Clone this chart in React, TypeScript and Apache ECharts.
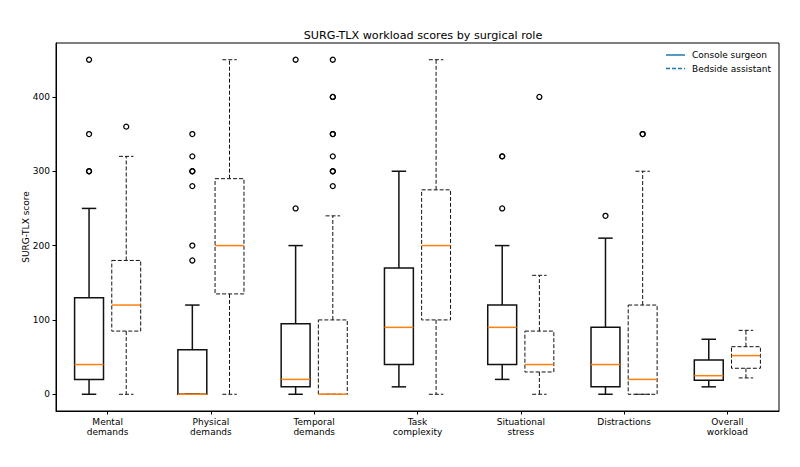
import React, { useEffect, useRef } from "react";
import * as echarts from "echarts";

const categories = [
  "Mental\ndemands",
  "Physical\ndemands",
  "Temporal\ndemands",
  "Task\ncomplexity",
  "Situational\nstress",
  "Distractions",
  "Overall\nworkload",
];

// [low whisker, Q1, median, Q3, high whisker]
const consoleStats = [
  [0, 20, 40, 130, 250],
  [0, 0, 0, 60, 120],
  [0, 10, 20, 95, 200],
  [10, 40, 90, 170, 300],
  [20, 40, 90, 120, 200],
  [0, 10, 40, 90, 210],
  [10, 19, 25, 46, 74],
];

const bedsideStats = [
  [0, 85, 120, 180, 320],
  [0, 135, 200, 290, 450],
  [0, 0, 0, 100, 240],
  [0, 100, 200, 275, 450],
  [0, 30, 40, 85, 160],
  [0, 0, 20, 120, 300],
  [22, 35, 52, 64, 86],
];

const consoleOutliers = [
  [300, 300, 350, 450],
  [180, 200, 280, 300, 300, 320, 350],
  [250, 450],
  [],
  [250, 320, 320],
  [240],
  [],
];

const bedsideOutliers = [
  [360],
  [],
  [280, 300, 300, 320, 350, 350, 400, 400, 450],
  [],
  [400],
  [350, 350],
  [],
];

const yTicks = [0, 100, 200, 300, 400];
const seriesNames = ["Console surgeon", "Bedside assistant"];

const FONT = "DejaVu Sans";
const TICK_FS = 9;
const OFFSET = 0.18;
const BOX_HALF = 0.14;

function boxRenderer(offsetFrac: number, dashed: boolean, lw: number) {
  return (params: any, api: any) => {
    const idx = api.value(0);
    const low = api.value(1);
    const q1 = api.value(2);
    const med = api.value(3);
    const q3 = api.value(4);
    const high = api.value(5);
    const band = api.size([1, 0])[0];
    const cx = api.coord([idx, 0])[0] + offsetFrac * band;
    const half = BOX_HALF * band;
    const capHalf = half / 2;
    const y = (v: number) => api.coord([idx, v])[1];
    const ls: any = {
      stroke: "#111",
      lineWidth: lw,
      fill: null,
      lineDash: dashed ? [4, 2] : null,
    };
    return {
      type: "group",
      children: [
        { type: "line", shape: { x1: cx, y1: y(q3), x2: cx, y2: y(high) }, style: ls },
        { type: "line", shape: { x1: cx, y1: y(q1), x2: cx, y2: y(low) }, style: ls },
        { type: "line", shape: { x1: cx - capHalf, y1: y(high), x2: cx + capHalf, y2: y(high) }, style: ls },
        { type: "line", shape: { x1: cx - capHalf, y1: y(low), x2: cx + capHalf, y2: y(low) }, style: ls },
        {
          type: "rect",
          shape: { x: cx - half, y: y(q3), width: 2 * half, height: y(q1) - y(q3) },
          style: { ...ls, fill: "none" },
        },
        {
          type: "line",
          shape: { x1: cx - half, y1: y(med), x2: cx + half, y2: y(med) },
          style: { stroke: "#ff7f0e", lineWidth: 1.5 },
        },
      ],
    };
  };
}

function outlierRenderer(offsetFrac: number) {
  return (params: any, api: any) => {
    const idx = api.value(0);
    const v = api.value(1);
    const band = api.size([1, 0])[0];
    const p = api.coord([idx, v]);
    return {
      type: "circle",
      shape: { cx: p[0] + offsetFrac * band, cy: p[1], r: 2.5 },
      style: { fill: "none", stroke: "#000", lineWidth: 1.3 },
    };
  };
}

export default function App() {
  const ref = useRef<HTMLDivElement>(null);
  useEffect(() => {
    if (!ref.current) return;
    const chart = echarts.init(ref.current, null, { renderer: "svg" });
    const consoleData = consoleStats.map((s, i) => [i, ...s]);
    const bedsideData = bedsideStats.map((s, i) => [i, ...s]);
    const consoleOut = consoleOutliers.flatMap((arr, i) => arr.map((v) => [i, v]));
    const bedsideOut = bedsideOutliers.flatMap((arr, i) => arr.map((v) => [i, v]));

    chart.setOption({
      animation: false,
      backgroundColor: "#fff",
      textStyle: { fontFamily: FONT },
      grid: {
        left: 56,
        top: 43,
        right: 21,
        bottom: 56,
        show: true,
        borderColor: "#000",
        borderWidth: 1,
        backgroundColor: "transparent",
      },
      xAxis: {
        type: "category",
        data: categories,
        boundaryGap: true,
        axisLine: { show: true, onZero: false, lineStyle: { color: "#000", width: 1 } },
        axisTick: { show: true, alignWithLabel: true, length: 3.5, lineStyle: { color: "#000" } },
        axisLabel: {
          color: "#000",
          fontSize: TICK_FS,
          fontFamily: FONT,
          lineHeight: 10,
          margin: 6,
          interval: 0,
        },
        splitLine: { show: false },
      },
      yAxis: {
        type: "value",
        min: -22.5,
        max: 472.5,
        name: "SURG-TLX score",
        nameLocation: "middle",
        nameRotate: 90,
        nameGap: 26,
        nameMoveOverlap: false,
        nameTextStyle: { color: "#000", fontSize: TICK_FS, fontFamily: FONT },
        axisLine: { show: true, lineStyle: { color: "#000", width: 1 } },
        axisTick: { show: true, length: 3.5, lineStyle: { color: "#000" }, customValues: yTicks },
        axisLabel: {
          color: "#000",
          fontSize: TICK_FS,
          fontFamily: FONT,
          margin: 6,
          customValues: yTicks,
        },
        splitLine: { show: false },
      },
      graphic: [
        {
          type: "text",
          x: 423,
          y: 35,
          style: {
            text: "SURG-TLX workload scores by surgical role",
            fontSize: 11.2,
            fontFamily: FONT,
            fill: "#000",
            align: "center",
            verticalAlign: "middle",
          },
        },
        {
          type: "line",
          shape: { x1: 666, y1: 55, x2: 685, y2: 55 },
          style: { stroke: "#1f77b4", lineWidth: 1.5 },
        },
        {
          type: "line",
          shape: { x1: 666, y1: 68.5, x2: 685, y2: 68.5 },
          style: { stroke: "#1f77b4", lineWidth: 1.5, lineDash: [4, 2] },
        },
        {
          type: "text",
          x: 692,
          y: 55,
          style: {
            text: seriesNames[0],
            fontSize: TICK_FS,
            fontFamily: FONT,
            fill: "#000",
            verticalAlign: "middle",
          },
        },
        {
          type: "text",
          x: 692,
          y: 68.5,
          style: {
            text: seriesNames[1],
            fontSize: TICK_FS,
            fontFamily: FONT,
            fill: "#000",
            verticalAlign: "middle",
          },
        },
      ],
      series: [
        {
          type: "custom",
          name: seriesNames[0],
          data: consoleData,
          encode: { x: 0, y: [1, 2, 3, 4, 5] },
          renderItem: boxRenderer(-OFFSET, false, 1.5),
          z: 2,
        },
        {
          type: "custom",
          name: seriesNames[1],
          data: bedsideData,
          encode: { x: 0, y: [1, 2, 3, 4, 5] },
          renderItem: boxRenderer(OFFSET, true, 1),
          z: 2,
        },
        {
          type: "custom",
          name: seriesNames[0] + " outliers",
          data: consoleOut,
          encode: { x: 0, y: 1 },
          renderItem: outlierRenderer(-OFFSET),
          z: 3,
        },
        {
          type: "custom",
          name: seriesNames[1] + " outliers",
          data: bedsideOut,
          encode: { x: 0, y: 1 },
          renderItem: outlierRenderer(OFFSET),
          z: 3,
        },
      ],
    });
    return () => chart.dispose();
  }, []);

  return (
    <div
      ref={ref}
      style={{ position: "fixed", left: 0, top: 0, width: 800, height: 467 }}
    />
  );
}
